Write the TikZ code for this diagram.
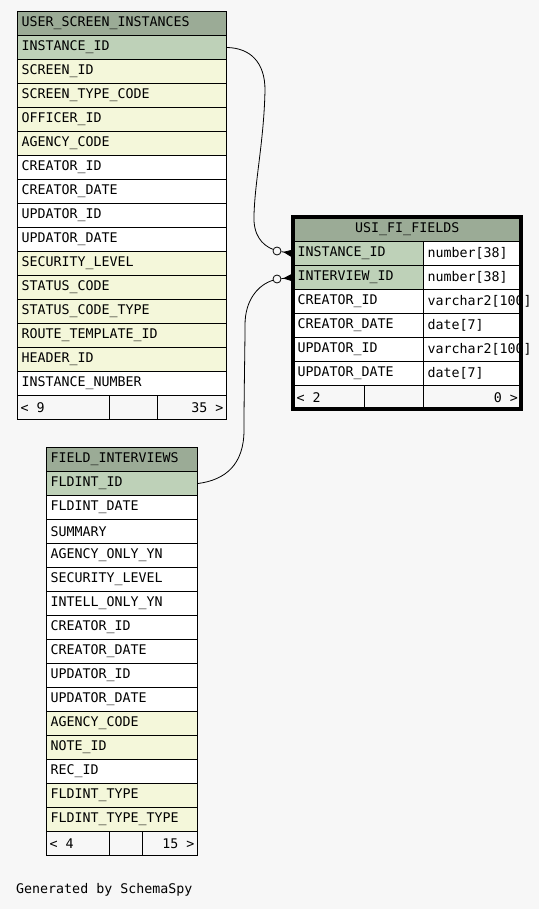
\documentclass[tikz,border=0pt]{standalone}
\usepackage{fontspec}
\setmonofont[HyphenChar=None]{DejaVu Sans Mono}
\usepackage{xcolor}
\usepackage{tikz}
\usetikzlibrary{positioning,arrows.meta,calc}

\definecolor{headbg}{HTML}{9BAB96}
\definecolor{keybg}{HTML}{BED1B8}
\definecolor{idxbg}{HTML}{F4F7DA}
\definecolor{pagebg}{HTML}{F7F7F7}

\begin{document}
\begin{tikzpicture}[x=1pt,y=-1pt,font=\ttfamily\fontsize{13.3}{16}\selectfont,
  cell/.style={draw,line width=1pt,anchor=north west,minimum height=24pt,inner xsep=4pt,inner ysep=0pt,align=left},
  odot/.style={circle,draw,fill=pagebg,line width=0.8pt,minimum size=8pt,inner sep=0pt},
  link/.style={line width=0.8pt}]
\useasboundingbox[fill=pagebg] (0,0) rectangle (539,909);

% USER_SCREEN_INSTANCES
\node[cell,fill=headbg,text width=201pt] (usi) at (17,11) {USER\_SCREEN\_INSTANCES};
\foreach \col/\clr [count=\n] in {INSTANCE\_ID/keybg, SCREEN\_ID/idxbg, SCREEN\_TYPE\_CODE/idxbg, OFFICER\_ID/idxbg, AGENCY\_CODE/idxbg, CREATOR\_ID/white, CREATOR\_DATE/white, UPDATOR\_ID/white, UPDATOR\_DATE/white, SECURITY\_LEVEL/idxbg, STATUS\_CODE/idxbg, STATUS\_CODE\_TYPE/idxbg, ROUTE\_TEMPLATE\_ID/idxbg, HEADER\_ID/idxbg, INSTANCE\_NUMBER/white}
  \node[cell,fill=\clr,text width=201pt] (usi-\n) at (17,11+24*\n) {\col};
\node[cell,fill=pagebg,minimum width=209pt] (usi-foot) at (17,395) {};
\node[anchor=west] at (usi-foot.west) {< 9};
\node[anchor=east] at (usi-foot.east) {35 >};
\draw[line width=1pt] (109,395) -- (109,419) (157,395) -- (157,419);

% FIELD_INTERVIEWS
\node[cell,fill=headbg,text width=143pt] (fi) at (46,447) {FIELD\_INTERVIEWS};
\foreach \col/\clr [count=\n] in {FLDINT\_ID/keybg, FLDINT\_DATE/white, SUMMARY/white, AGENCY\_ONLY\_YN/white, SECURITY\_LEVEL/white, INTELL\_ONLY\_YN/white, CREATOR\_ID/white, CREATOR\_DATE/white, UPDATOR\_ID/white, UPDATOR\_DATE/white, AGENCY\_CODE/idxbg, NOTE\_ID/idxbg, REC\_ID/white, FLDINT\_TYPE/idxbg, FLDINT\_TYPE\_TYPE/idxbg}
  \node[cell,fill=\clr,text width=143pt] (fi-\n) at (46,447+24*\n) {\col};
\node[cell,fill=pagebg,minimum width=151pt] (fi-foot) at (46,831) {};
\node[anchor=west] at (fi-foot.west) {< 4};
\node[anchor=east] at (fi-foot.east) {15 >};
\draw[line width=1pt] (109,831) -- (109,855) (142,831) -- (142,855);

% USI_FI_FIELDS
\node[cell,fill=headbg,text width=219.5pt,align=center] (uf) at (293,217) {USI\_FI\_FIELDS};
\foreach \col/\typ/\clr [count=\n] in {INSTANCE\_ID/number[38]/keybg, INTERVIEW\_ID/number[38]/keybg, CREATOR\_ID/varchar2[100]/white, CREATOR\_DATE/date[7]/white, UPDATOR\_ID/varchar2[100]/white, UPDATOR\_DATE/date[7]/white}
  {\node[cell,fill=\clr,text width=122pt] (uf-\n) at (293,217+24*\n) {\col};
   \node[cell,fill=white,text width=89.5pt] (uf-t\n) at (423,217+24*\n) {\typ};}
\node[cell,fill=pagebg,minimum width=227.5pt] (uf-foot) at (293,385) {};
\node[anchor=west] at (uf-foot.west) {< 2};
\node[anchor=east] at (uf-foot.east) {0 >};
\draw[line width=1pt] (364,385) -- (364,409) (423,385) -- (423,409);

% relationships
\node[odot] (o1) at (277,251) {};
\node[odot] (o2) at (277,279) {};
\draw[link] (usi-1.east) .. controls (250,48) and (265,62) .. (265,90) .. controls (264,140) and (255,180) .. (254,215) .. controls (253,235) and (262,245) .. (o1);
\draw[link,-{Triangle[reversed,length=10pt,width=8pt]}] (o1) -- (uf-1.west);
\draw[link] (fi-1.east) .. controls (225,480) and (244,465) .. (244,430) .. controls (244,390) and (245,350) .. (245,325) .. controls (245,300) and (258,285) .. (o2);
\draw[link,-{Triangle[reversed,length=10pt,width=8pt]}] (o2) -- (uf-2.west);
\draw[line width=4pt] (293,217) rectangle (520.5,409);

\node[anchor=west,inner sep=0pt] (gen) at (16,890) {Generated by SchemaSpy};
\end{tikzpicture}
\end{document}
